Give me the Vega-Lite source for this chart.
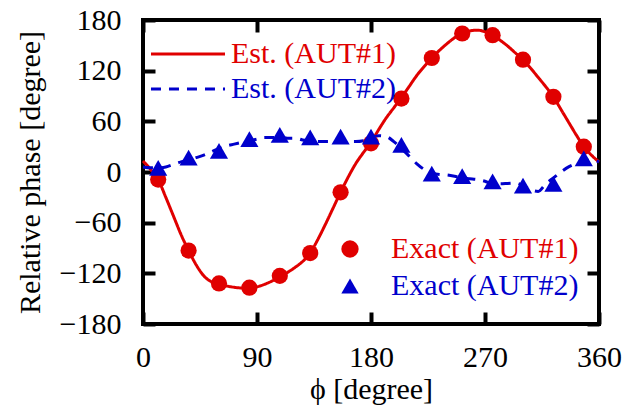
{
  "$schema": "https://vega.github.io/schema/vega-lite/v6.json",
  "width": 456,
  "height": 304,
  "autosize": "none",
  "padding": {"left": 143, "top": 20, "right": 40, "bottom": 82},
  "background": "white",
  "config": {
    "font": "Liberation Serif",
    "view": {"stroke": "black", "strokeWidth": 4},
    "axis": {
      "grid": false,
      "domain": false,
      "tickColor": "black",
      "tickWidth": 4,
      "tickSize": -12,
      "labelFlush": false,
      "labelFont": "Liberation Serif",
      "labelFontSize": 30,
      "labelColor": "black",
      "titleFont": "Liberation Serif",
      "titleFontSize": 30,
      "titleFontWeight": "normal",
      "titleColor": "black"
    },
    "legend": {
      "labelFont": "Liberation Serif",
      "labelFontSize": 30,
      "labelLimit": 0
    }
  },
  "datasets": {
    "lines": [
      {"phi": 0, "v": 13, "series": "Est. (AUT#1)"},
      {"phi": 6, "v": 3, "series": "Est. (AUT#1)"},
      {"phi": 12, "v": -9, "series": "Est. (AUT#1)"},
      {"phi": 18, "v": -30, "series": "Est. (AUT#1)"},
      {"phi": 24, "v": -52, "series": "Est. (AUT#1)"},
      {"phi": 30, "v": -74, "series": "Est. (AUT#1)"},
      {"phi": 36, "v": -93, "series": "Est. (AUT#1)"},
      {"phi": 42, "v": -110, "series": "Est. (AUT#1)"},
      {"phi": 48, "v": -123, "series": "Est. (AUT#1)"},
      {"phi": 54, "v": -130, "series": "Est. (AUT#1)"},
      {"phi": 60, "v": -133, "series": "Est. (AUT#1)"},
      {"phi": 66, "v": -135, "series": "Est. (AUT#1)"},
      {"phi": 72, "v": -136.5, "series": "Est. (AUT#1)"},
      {"phi": 78, "v": -137.5, "series": "Est. (AUT#1)"},
      {"phi": 84, "v": -138, "series": "Est. (AUT#1)"},
      {"phi": 90, "v": -136, "series": "Est. (AUT#1)"},
      {"phi": 96, "v": -133, "series": "Est. (AUT#1)"},
      {"phi": 102, "v": -129, "series": "Est. (AUT#1)"},
      {"phi": 108, "v": -124, "series": "Est. (AUT#1)"},
      {"phi": 114, "v": -119, "series": "Est. (AUT#1)"},
      {"phi": 120, "v": -113, "series": "Est. (AUT#1)"},
      {"phi": 126, "v": -106, "series": "Est. (AUT#1)"},
      {"phi": 132, "v": -96, "series": "Est. (AUT#1)"},
      {"phi": 138, "v": -80, "series": "Est. (AUT#1)"},
      {"phi": 144, "v": -62, "series": "Est. (AUT#1)"},
      {"phi": 150, "v": -43, "series": "Est. (AUT#1)"},
      {"phi": 156, "v": -24, "series": "Est. (AUT#1)"},
      {"phi": 162, "v": -6, "series": "Est. (AUT#1)"},
      {"phi": 168, "v": 10, "series": "Est. (AUT#1)"},
      {"phi": 174, "v": 23, "series": "Est. (AUT#1)"},
      {"phi": 180, "v": 35, "series": "Est. (AUT#1)"},
      {"phi": 186, "v": 50, "series": "Est. (AUT#1)"},
      {"phi": 192, "v": 64, "series": "Est. (AUT#1)"},
      {"phi": 198, "v": 76, "series": "Est. (AUT#1)"},
      {"phi": 204, "v": 88, "series": "Est. (AUT#1)"},
      {"phi": 210, "v": 101, "series": "Est. (AUT#1)"},
      {"phi": 216, "v": 114, "series": "Est. (AUT#1)"},
      {"phi": 222, "v": 125, "series": "Est. (AUT#1)"},
      {"phi": 228, "v": 135, "series": "Est. (AUT#1)"},
      {"phi": 234, "v": 144, "series": "Est. (AUT#1)"},
      {"phi": 240, "v": 152, "series": "Est. (AUT#1)"},
      {"phi": 246, "v": 159, "series": "Est. (AUT#1)"},
      {"phi": 252, "v": 164, "series": "Est. (AUT#1)"},
      {"phi": 258, "v": 167, "series": "Est. (AUT#1)"},
      {"phi": 264, "v": 168, "series": "Est. (AUT#1)"},
      {"phi": 270, "v": 166, "series": "Est. (AUT#1)"},
      {"phi": 276, "v": 162, "series": "Est. (AUT#1)"},
      {"phi": 282, "v": 156, "series": "Est. (AUT#1)"},
      {"phi": 288, "v": 149, "series": "Est. (AUT#1)"},
      {"phi": 294, "v": 141, "series": "Est. (AUT#1)"},
      {"phi": 300, "v": 133, "series": "Est. (AUT#1)"},
      {"phi": 306, "v": 123, "series": "Est. (AUT#1)"},
      {"phi": 312, "v": 112, "series": "Est. (AUT#1)"},
      {"phi": 318, "v": 101, "series": "Est. (AUT#1)"},
      {"phi": 324, "v": 89, "series": "Est. (AUT#1)"},
      {"phi": 330, "v": 74, "series": "Est. (AUT#1)"},
      {"phi": 336, "v": 59, "series": "Est. (AUT#1)"},
      {"phi": 342, "v": 44, "series": "Est. (AUT#1)"},
      {"phi": 348, "v": 30, "series": "Est. (AUT#1)"},
      {"phi": 354, "v": 20, "series": "Est. (AUT#1)"},
      {"phi": 360, "v": 12, "series": "Est. (AUT#1)"},
      {"phi": 0, "v": 6, "series": "Est. (AUT#2)"},
      {"phi": 6, "v": 5, "series": "Est. (AUT#2)"},
      {"phi": 12, "v": 5, "series": "Est. (AUT#2)"},
      {"phi": 18, "v": 6, "series": "Est. (AUT#2)"},
      {"phi": 24, "v": 9, "series": "Est. (AUT#2)"},
      {"phi": 30, "v": 12, "series": "Est. (AUT#2)"},
      {"phi": 36, "v": 14, "series": "Est. (AUT#2)"},
      {"phi": 42, "v": 17, "series": "Est. (AUT#2)"},
      {"phi": 48, "v": 20, "series": "Est. (AUT#2)"},
      {"phi": 54, "v": 24, "series": "Est. (AUT#2)"},
      {"phi": 60, "v": 28, "series": "Est. (AUT#2)"},
      {"phi": 66, "v": 31, "series": "Est. (AUT#2)"},
      {"phi": 72, "v": 33, "series": "Est. (AUT#2)"},
      {"phi": 78, "v": 35, "series": "Est. (AUT#2)"},
      {"phi": 84, "v": 37, "series": "Est. (AUT#2)"},
      {"phi": 90, "v": 39, "series": "Est. (AUT#2)"},
      {"phi": 96, "v": 41, "series": "Est. (AUT#2)"},
      {"phi": 102, "v": 41, "series": "Est. (AUT#2)"},
      {"phi": 108, "v": 41, "series": "Est. (AUT#2)"},
      {"phi": 114, "v": 40, "series": "Est. (AUT#2)"},
      {"phi": 120, "v": 40, "series": "Est. (AUT#2)"},
      {"phi": 126, "v": 38, "series": "Est. (AUT#2)"},
      {"phi": 132, "v": 37, "series": "Est. (AUT#2)"},
      {"phi": 138, "v": 36, "series": "Est. (AUT#2)"},
      {"phi": 144, "v": 36, "series": "Est. (AUT#2)"},
      {"phi": 150, "v": 36, "series": "Est. (AUT#2)"},
      {"phi": 156, "v": 36, "series": "Est. (AUT#2)"},
      {"phi": 162, "v": 36, "series": "Est. (AUT#2)"},
      {"phi": 168, "v": 36, "series": "Est. (AUT#2)"},
      {"phi": 174, "v": 37, "series": "Est. (AUT#2)"},
      {"phi": 180, "v": 40, "series": "Est. (AUT#2)"},
      {"phi": 186, "v": 43, "series": "Est. (AUT#2)"},
      {"phi": 192, "v": 42, "series": "Est. (AUT#2)"},
      {"phi": 198, "v": 36, "series": "Est. (AUT#2)"},
      {"phi": 204, "v": 28, "series": "Est. (AUT#2)"},
      {"phi": 210, "v": 19, "series": "Est. (AUT#2)"},
      {"phi": 216, "v": 10, "series": "Est. (AUT#2)"},
      {"phi": 222, "v": 3, "series": "Est. (AUT#2)"},
      {"phi": 228, "v": -1, "series": "Est. (AUT#2)"},
      {"phi": 234, "v": -3, "series": "Est. (AUT#2)"},
      {"phi": 240, "v": -3.5, "series": "Est. (AUT#2)"},
      {"phi": 246, "v": -5, "series": "Est. (AUT#2)"},
      {"phi": 252, "v": -7, "series": "Est. (AUT#2)"},
      {"phi": 258, "v": -8, "series": "Est. (AUT#2)"},
      {"phi": 264, "v": -9, "series": "Est. (AUT#2)"},
      {"phi": 270, "v": -11, "series": "Est. (AUT#2)"},
      {"phi": 276, "v": -14, "series": "Est. (AUT#2)"},
      {"phi": 282, "v": -14, "series": "Est. (AUT#2)"},
      {"phi": 288, "v": -13.5, "series": "Est. (AUT#2)"},
      {"phi": 294, "v": -13, "series": "Est. (AUT#2)"},
      {"phi": 300, "v": -16, "series": "Est. (AUT#2)"},
      {"phi": 306, "v": -21, "series": "Est. (AUT#2)"},
      {"phi": 312, "v": -23, "series": "Est. (AUT#2)"},
      {"phi": 318, "v": -14, "series": "Est. (AUT#2)"},
      {"phi": 324, "v": -7, "series": "Est. (AUT#2)"},
      {"phi": 330, "v": 0, "series": "Est. (AUT#2)"},
      {"phi": 336, "v": 6, "series": "Est. (AUT#2)"},
      {"phi": 342, "v": 10, "series": "Est. (AUT#2)"},
      {"phi": 348, "v": 13, "series": "Est. (AUT#2)"},
      {"phi": 354, "v": 14, "series": "Est. (AUT#2)"},
      {"phi": 360, "v": 12, "series": "Est. (AUT#2)"}
    ],
    "points": [
      {"phi": 12, "v": -9, "series": "Exact (AUT#1)"},
      {"phi": 36, "v": -93, "series": "Exact (AUT#1)"},
      {"phi": 60, "v": -132, "series": "Exact (AUT#1)"},
      {"phi": 84, "v": -137, "series": "Exact (AUT#1)"},
      {"phi": 108, "v": -123, "series": "Exact (AUT#1)"},
      {"phi": 132, "v": -96, "series": "Exact (AUT#1)"},
      {"phi": 156, "v": -24, "series": "Exact (AUT#1)"},
      {"phi": 180, "v": 34, "series": "Exact (AUT#1)"},
      {"phi": 204, "v": 87, "series": "Exact (AUT#1)"},
      {"phi": 228, "v": 135, "series": "Exact (AUT#1)"},
      {"phi": 252, "v": 164, "series": "Exact (AUT#1)"},
      {"phi": 276, "v": 162, "series": "Exact (AUT#1)"},
      {"phi": 300, "v": 133, "series": "Exact (AUT#1)"},
      {"phi": 324, "v": 89, "series": "Exact (AUT#1)"},
      {"phi": 348, "v": 30, "series": "Exact (AUT#1)"},
      {"phi": 12, "v": 5, "series": "Exact (AUT#2)"},
      {"phi": 36, "v": 17, "series": "Exact (AUT#2)"},
      {"phi": 60, "v": 25, "series": "Exact (AUT#2)"},
      {"phi": 84, "v": 39, "series": "Exact (AUT#2)"},
      {"phi": 108, "v": 44, "series": "Exact (AUT#2)"},
      {"phi": 132, "v": 41, "series": "Exact (AUT#2)"},
      {"phi": 156, "v": 42, "series": "Exact (AUT#2)"},
      {"phi": 180, "v": 42, "series": "Exact (AUT#2)"},
      {"phi": 204, "v": 32, "series": "Exact (AUT#2)"},
      {"phi": 228, "v": -2, "series": "Exact (AUT#2)"},
      {"phi": 252, "v": -5, "series": "Exact (AUT#2)"},
      {"phi": 276, "v": -11, "series": "Exact (AUT#2)"},
      {"phi": 300, "v": -16, "series": "Exact (AUT#2)"},
      {"phi": 324, "v": -14, "series": "Exact (AUT#2)"},
      {"phi": 348, "v": 16, "series": "Exact (AUT#2)"}
    ]
  },
  "layer": [
    {
      "data": {"name": "lines"},
      "mark": {"type": "line", "strokeWidth": 3, "interpolate": "monotone"},
      "encoding": {
        "x": {"field": "phi", "type": "quantitative", "scale": {"domain": [0, 360], "nice": false},
              "axis": {"orient": "bottom", "values": [0, 90, 180, 270, 360], "title": "ϕ [degree]", "labelPadding": 30, "titlePadding": 2}},
        "y": {"field": "v", "type": "quantitative", "scale": {"domain": [-180, 180], "nice": false},
              "axis": {"orient": "left", "values": [-180, -120, -60, 0, 60, 120, 180], "title": "Relative phase [degree]", "labelPadding": 34, "titlePadding": 14}},
        "color": {"field": "series", "type": "nominal",
                  "scale": {"domain": ["Est. (AUT#1)", "Est. (AUT#2)"], "range": ["#e00000", "#0000cc"]},
                  "legend": null},
        "strokeDash": {"field": "series", "type": "nominal",
                       "scale": {"domain": ["Est. (AUT#1)", "Est. (AUT#2)"], "range": [[1, 0], [10, 8]]},
                       "legend": {"orient": "none", "legendX": 30, "legendY": 19, "title": null,
                             "symbolType": "M-3,0H3", "symbolSize": 609, "symbolStrokeWidth": 3,
                             "symbolStrokeColor": {"expr": "indexof(datum.label, '#1') >= 0 ? '#e00000' : '#0000cc'"},
                             "labelOffset": 28, "rowPadding": 5,
                             "labelColor": {"expr": "indexof(datum.label, '#1') >= 0 ? '#e00000' : '#0000cc'"}}}
      }
    },
    {
      "data": {"name": "points"},
      "mark": {"type": "point", "filled": true, "opacity": 1, "strokeWidth": 0},
      "encoding": {
        "x": {"field": "phi", "type": "quantitative", "axis": null},
        "y": {"field": "v", "type": "quantitative", "axis": null},
        "color": {"field": "series", "type": "nominal",
                  "scale": {"domain": ["Exact (AUT#1)", "Exact (AUT#2)"], "range": ["#e00000", "#0000cc"]},
                  "legend": null},
        "size": {"condition": {"test": "datum.series == 'Exact (AUT#2)'", "value": 330}, "value": 263},
        "shape": {"field": "series", "type": "nominal",
                  "scale": {"domain": ["Exact (AUT#1)", "Exact (AUT#2)"], "range": ["circle", "triangle-up"]},
                  "legend": {"orient": "none", "legendX": 192, "legendY": 214, "title": null,
                             "symbolSize": 300, "symbolStrokeWidth": 0,
                             "symbolFillColor": {"expr": "indexof(datum.label, '#1') >= 0 ? '#e00000' : '#0000cc'"},
                             "labelOffset": 26, "rowPadding": 7,
                             "labelColor": {"expr": "indexof(datum.label, '#1') >= 0 ? '#e00000' : '#0000cc'"}}}
      }
    },
    {
      "data": {"name": "points"},
      "mark": {"type": "point", "opacity": 0},
      "encoding": {
        "x": {"field": "phi", "type": "quantitative",
              "axis": {"orient": "top", "values": [0, 90, 180, 270, 360], "labels": false, "title": null}},
        "y": {"field": "v", "type": "quantitative",
              "axis": {"orient": "right", "values": [-180, -120, -60, 0, 60, 120, 180], "labels": false, "title": null}}
      }
    }
  ],
  "resolve": {
    "scale": {"color": "independent"},
    "axis": {"x": "independent", "y": "independent"}
  }
}
